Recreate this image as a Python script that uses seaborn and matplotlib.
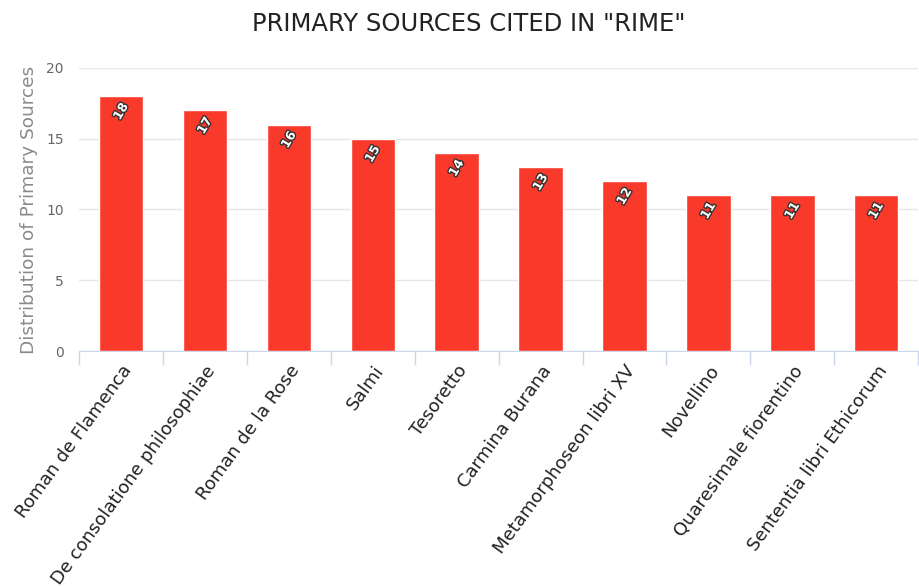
import numpy as np
import pandas as pd
import matplotlib
matplotlib.use("Agg")
import matplotlib.pyplot as plt
import matplotlib.patheffects as pe
import seaborn as sns

sources = ["Roman de Flamenca", "De consolatione philosophiae", "Roman de la Rose",
           "Salmi", "Tesoretto", "Carmina Burana", "Metamorphoseon libri XV",
           "Novellino", "Quaresimale fiorentino", "Sententia libri Ethicorum"]
counts = [18, 17, 16, 15, 14, 13, 12, 11, 11, 11]

df = pd.DataFrame({"source": sources, "count": counts})

sns.set_style("white")
plt.rcParams['font.family'] = ['DejaVu Sans']

fig = plt.figure(figsize=(9.2, 5.86), dpi=100)
ax = fig.add_axes([0.086, 0.401, 0.912, 0.483])
sns.barplot(data=df, x="source", y="count", color="#f93a2b", saturation=1,
            width=0.53, ax=ax, zorder=3)

ax.set_xlim(-0.5, len(sources) - 0.5)
ax.set_ylim(0, 20)
ax.set_yticks([0, 5, 10, 15, 20])
ax.yaxis.grid(True, color="#e6e6e6", linewidth=1, zorder=0)
ax.set_axisbelow(True)
for s in ["top", "right", "left"]:
    ax.spines[s].set_visible(False)
ax.spines["bottom"].set_color("#ccd6eb")
ax.tick_params(axis="y", length=0, labelsize=10, labelcolor="#666666", pad=11)
ax.set_xticks(np.arange(-0.5, len(sources), 1.0), minor=True)
ax.tick_params(axis="x", which="minor", bottom=True, length=10, color="#ccd6eb", width=1)
ax.set_xticks(range(len(sources)))
ax.set_xticklabels(sources, rotation=54, ha="right", rotation_mode="anchor")
ax.tick_params(axis="x", which="major", length=0, labelsize=13, labelcolor="#222222", pad=8)

ax.set_xlabel("")
ax.set_ylabel("Distribution of Primary Sources", fontsize=13.3, color="#8a8a8a", labelpad=6)
fig.suptitle('PRIMARY SOURCES CITED IN "RIME"', fontsize=17.5, color="#222222",
             x=0.51, y=0.98)

for i, c in enumerate(counts):
    ax.annotate(str(c), (i, c), xytext=(0, -11), textcoords="offset points",
                ha="center", va="center", rotation=60, fontsize=9,
                fontweight="bold", color="white",
                path_effects=[pe.withStroke(linewidth=2, foreground="#333333")])

fig.savefig("out.png", dpi=100)
